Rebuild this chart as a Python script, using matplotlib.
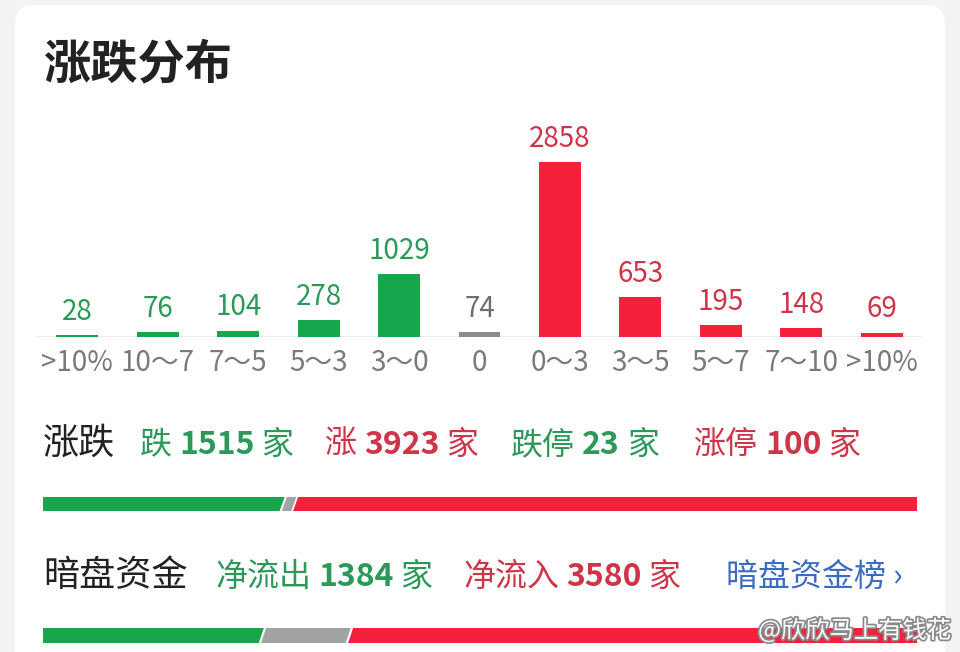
import matplotlib
matplotlib.use("Agg")
import matplotlib.pyplot as plt
import matplotlib.patheffects as pe
from matplotlib.patches import FancyBboxPatch, Polygon

plt.rcParams['font.family'] = ['Noto Sans CJK SC', 'DejaVu Sans']

# distribution of price changes (%)
categories = ['>10%', '10～7', '7～5', '5～3', '3～0', '0', '0～3', '3～5', '5～7', '7～10', '>10%']
counts = [28, 76, 104, 278, 1029, 74, 2858, 653, 195, 148, 69]
sides = ['down', 'down', 'down', 'down', 'down', 'flat', 'up', 'up', 'up', 'up', 'up']

# summary row 1
fall_total = 1515
rise_total = 3923
flat_total = 74
limit_down = 23
limit_up = 100

# summary row 2 (dark pool money)
net_out = 1384
net_in = 3580
net_flat = fall_total + flat_total + rise_total - net_out - net_in

GREEN_BAR = '#18a64c'
RED_BAR = '#f5213a'
GRAY_BAR = '#8c8c8c'
GREEN_TXT = '#2b9a58'
RED_TXT = '#cf3548'
GRAY_TXT = '#6e6e6e'
BLUE_TXT = '#3a6cc2'
DARK_TXT = '#222222'

bar_colors = {'down': GREEN_BAR, 'up': RED_BAR, 'flat': GRAY_BAR}
txt_colors = {'down': GREEN_TXT, 'up': RED_TXT, 'flat': GRAY_TXT}

W, H = 960, 652
fig = plt.figure(figsize=(W / 100, H / 100), dpi=100, facecolor='#f3f3f3')

# background layer in pixel units
bg = fig.add_axes([0, 0, 1, 1], zorder=0)
bg.set_xlim(0, W)
bg.set_ylim(H, 0)
bg.axis('off')
bg.add_patch(FancyBboxPatch((15, 5), 930, 720, boxstyle='round,pad=0,rounding_size=20',
                            fc='white', ec='none'))

bg.text(43, 78, '涨跌分布', fontsize=34, fontweight='bold', color=DARK_TXT, va='baseline')

# bar chart
ax = fig.add_axes([37 / W, (H - 337) / H, 885 / W, 200 / H], zorder=1)
ax.patch.set_alpha(0)
x = list(range(len(counts)))
ax.bar(x, counts, width=0.52, color=[bar_colors[s] for s in sides], zorder=2)
ax.axhline(0, color='#ececec', lw=1.5, zorder=1)
ax.set_xlim(-0.5, len(counts) - 0.5)
ax.set_ylim(0, max(counts) * 1.143)
ax.axis('off')
for i, (v, s) in enumerate(zip(counts, sides)):
    ax.annotate(str(v), (i, v), xytext=(0, 11), textcoords='offset points',
                ha='center', va='baseline', fontsize=20, color=txt_colors[s])
    ax.annotate(categories[i], (i, 0), xytext=(0, -24.5), textcoords='offset points',
                ha='center', va='baseline', fontsize=20, color='#7a7a7a')

renderer = fig.canvas.get_renderer()


def draw_group(x0, y0, parts, size=23):
    # parts: (text, color, bold) drawn one after another
    for txt, color, bold in parts:
        t = bg.text(x0, y0, txt, fontsize=size, color=color, va='baseline', ha='left',
                    fontweight='bold' if bold else 'normal')
        x0 += t.get_window_extent(renderer=renderer).width + 7


# row 1
bg.text(43, 454, '涨跌', fontsize=26, color=DARK_TXT, va='baseline')
draw_group(140, 454, [('跌', GREEN_TXT, False), (str(fall_total), GREEN_TXT, True), ('家', GREEN_TXT, False)])
draw_group(325, 454, [('涨', RED_TXT, False), (str(rise_total), RED_TXT, True), ('家', RED_TXT, False)])
draw_group(511, 454, [('跌停', GREEN_TXT, False), (str(limit_down), GREEN_TXT, True), ('家', GREEN_TXT, False)])
draw_group(694, 454, [('涨停', RED_TXT, False), (str(limit_up), RED_TXT, True), ('家', RED_TXT, False)])

# row 2
bg.text(43, 586, '暗盘资金', fontsize=26, color=DARK_TXT, va='baseline')
draw_group(215, 586, [('净流出', GREEN_TXT, False), (str(net_out), GREEN_TXT, True), ('家', GREEN_TXT, False)])
draw_group(463, 586, [('净流入', RED_TXT, False), (str(net_in), RED_TXT, True), ('家', RED_TXT, False)])
bg.text(726, 586, '暗盘资金榜 ›', fontsize=23, color=BLUE_TXT, va='baseline')


def ratio_bar(y_top, y_bot, values, colors):
    pax = fig.add_axes([43 / W, (H - y_bot) / H, 874 / W, (y_bot - y_top) / H], zorder=1)
    total = sum(values)
    px = total / 874.0
    slant, gap = 5 * px, 4 * px
    pax.set_xlim(0, total)
    pax.set_ylim(0, 1)
    pax.axis('off')
    start = 0
    for i, (v, c) in enumerate(zip(values, colors)):
        end = start + v
        lb = start + gap / 2 - slant / 2 if i > 0 else 0
        lt = start + gap / 2 + slant / 2 if i > 0 else 0
        rb = end - gap / 2 - slant / 2 if i < len(values) - 1 else total
        rt = end - gap / 2 + slant / 2 if i < len(values) - 1 else total
        pax.add_patch(Polygon([(lb, 0), (rb, 0), (rt, 1), (lt, 1)], closed=True,
                              fc=c, ec=c, lw=1.2, joinstyle='round'))
        start = end


ratio_bar(497, 511, [fall_total, flat_total, rise_total], [GREEN_BAR, '#a3a3a3', RED_BAR])
ratio_bar(628, 643, [net_out, net_flat, net_in], [GREEN_BAR, '#a3a3a3', RED_BAR])

# watermark
wm = fig.text(758 / W, 1 - 638 / H, '@欣欣马上有钱花', fontsize=17.5, color='white', va='baseline',
              zorder=5)
wm.set_path_effects([pe.withStroke(linewidth=2.5, foreground='#8a8a8a')])

fig.savefig('out.png', dpi=100, facecolor=fig.get_facecolor())
